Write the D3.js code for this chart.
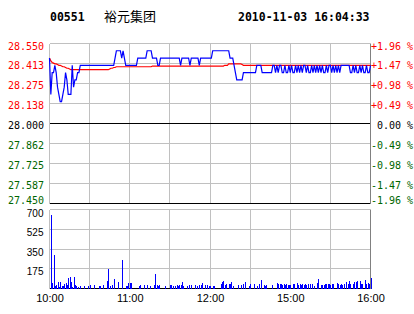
<!DOCTYPE html>
<html>
<head>
<meta charset="utf-8">
<script src="https://cdn.jsdelivr.net/npm/d3@7"></script>
<style>
	html, body { margin: 0; padding: 0; background: #fff; }
	svg { display: block; }
</style>
</head>
<body>
<script>
// stock / header
var code = '00551',
	name = '裕元集团',
	stamp = '2010-11-03 16:04:33',
	prevClose = 28.000;

// axis ticks
var priceTicks = [28.550, 28.413, 28.275, 28.138, 28.000, 27.862, 27.725, 27.587, 27.450];
var pctLabels = ['+1.96 %', '+1.47 %', '+0.98 %', '+0.49 %', ' 0.00 %', '-0.49 %', '-0.98 %', '-1.47 %', '-1.96 %'];
var volTicks = [700, 525, 350, 175];
var timeGrid = [0, 30, 60, 90, 120, 150, 180, 210, 240]; // minutes since open
var timeTicks = [0, 60, 120, 180, 240];
var timeLabels = ['10:00', '11:00', '12:00', '15:00', '16:00'];

// one value per trading minute (10:00-12:30, 14:31-16:00)
var price = [
	28.45, 28.20, 28.35, 28.35, 28.40, 28.35, 28.25, 28.20, 28.15, 28.15,
	28.20, 28.25, 28.35, 28.30, 28.20, 28.20, 28.20, 28.40, 28.25, 28.30,
	28.30, 28.35, 28.35, 28.40, 28.40, 28.40, 28.40, 28.40, 28.40, 28.40,
	28.40, 28.40, 28.40, 28.40, 28.40, 28.40, 28.40, 28.40, 28.40, 28.40,
	28.40, 28.40, 28.40, 28.40, 28.40, 28.40, 28.40, 28.40, 28.40, 28.45,
	28.50, 28.50, 28.50, 28.50, 28.45, 28.50, 28.45, 28.40, 28.40, 28.40,
	28.40, 28.40, 28.40, 28.40, 28.40, 28.40, 28.45, 28.45, 28.45, 28.45,
	28.45, 28.45, 28.45, 28.50, 28.50, 28.50, 28.50, 28.45, 28.45, 28.45,
	28.45, 28.40, 28.40, 28.45, 28.45, 28.45, 28.45, 28.45, 28.45, 28.45,
	28.45, 28.45, 28.45, 28.45, 28.45, 28.45, 28.45, 28.45, 28.40, 28.45,
	28.45, 28.45, 28.45, 28.45, 28.45, 28.40, 28.45, 28.45, 28.45, 28.45,
	28.45, 28.45, 28.40, 28.45, 28.45, 28.45, 28.45, 28.45, 28.45, 28.45,
	28.45, 28.45, 28.50, 28.50, 28.50, 28.50, 28.50, 28.50, 28.50, 28.50,
	28.50, 28.50, 28.50, 28.50, 28.50, 28.45, 28.45, 28.45, 28.40, 28.35,
	28.30, 28.30, 28.30, 28.30, 28.30, 28.35, 28.35, 28.35, 28.35, 28.35,
	28.35, 28.35, 28.35, 28.35, 28.35, 28.40, 28.40, 28.40, 28.40, 28.35,
	28.35, 28.35, 28.35, 28.35, 28.35, 28.35, 28.35, 28.40, 28.40, 28.35,
	28.40, 28.35, 28.40, 28.40, 28.35, 28.35, 28.40, 28.35, 28.35, 28.40,
	28.35, 28.40, 28.35, 28.35, 28.40, 28.35, 28.40, 28.35, 28.40, 28.35,
	28.40, 28.40, 28.35, 28.40, 28.35, 28.35, 28.40, 28.35, 28.40, 28.35,
	28.40, 28.35, 28.40, 28.35, 28.40, 28.35, 28.35, 28.40, 28.35, 28.40,
	28.40, 28.35, 28.40, 28.35, 28.40, 28.35, 28.40, 28.35, 28.40, 28.40,
	28.40, 28.40, 28.40, 28.40, 28.40, 28.35, 28.35, 28.40, 28.35, 28.40,
	28.35, 28.35, 28.40, 28.35, 28.40, 28.35, 28.35, 28.40, 28.35, 28.35,
	28.40
];

var avgPrice = [
	28.450, 28.430, 28.420, 28.415, 28.410, 28.410, 28.405, 28.400, 28.400, 28.395,
	28.390, 28.390, 28.385, 28.380, 28.380, 28.375, 28.370, 28.370, 28.370, 28.370,
	28.370, 28.370, 28.370, 28.370, 28.370, 28.370, 28.370, 28.370, 28.370, 28.370,
	28.370, 28.370, 28.370, 28.370, 28.370, 28.370, 28.370, 28.370, 28.370, 28.370,
	28.370, 28.370, 28.370, 28.370, 28.370, 28.375, 28.380, 28.380, 28.385, 28.385,
	28.390, 28.390, 28.390, 28.390, 28.390, 28.390, 28.390, 28.390, 28.390, 28.390,
	28.390, 28.390, 28.390, 28.390, 28.390, 28.390, 28.390, 28.390, 28.390, 28.390,
	28.390, 28.390, 28.390, 28.390, 28.390, 28.390, 28.390, 28.395, 28.395, 28.395,
	28.395, 28.395, 28.395, 28.395, 28.395, 28.395, 28.395, 28.395, 28.395, 28.395,
	28.395, 28.395, 28.395, 28.395, 28.395, 28.395, 28.395, 28.395, 28.395, 28.395,
	28.395, 28.395, 28.395, 28.395, 28.395, 28.395, 28.395, 28.395, 28.395, 28.395,
	28.395, 28.395, 28.395, 28.395, 28.395, 28.395, 28.395, 28.395, 28.395, 28.395,
	28.395, 28.395, 28.395, 28.395, 28.395, 28.395, 28.395, 28.395, 28.395, 28.395,
	28.395, 28.400, 28.400, 28.400, 28.410, 28.410, 28.410, 28.410, 28.410, 28.410,
	28.410, 28.410, 28.410, 28.410, 28.405, 28.400, 28.400, 28.400, 28.400, 28.400,
	28.400, 28.400, 28.400, 28.400, 28.400, 28.400, 28.400, 28.400, 28.400, 28.400,
	28.400, 28.400, 28.400, 28.400, 28.400, 28.400, 28.400, 28.400, 28.400, 28.400,
	28.400, 28.400, 28.400, 28.400, 28.400, 28.400, 28.400, 28.400, 28.400, 28.400,
	28.400, 28.400, 28.400, 28.400, 28.400, 28.400, 28.400, 28.400, 28.400, 28.400,
	28.400, 28.400, 28.400, 28.400, 28.400, 28.400, 28.400, 28.400, 28.400, 28.400,
	28.400, 28.400, 28.400, 28.400, 28.400, 28.400, 28.400, 28.400, 28.400, 28.400,
	28.400, 28.400, 28.400, 28.400, 28.400, 28.400, 28.400, 28.400, 28.400, 28.400,
	28.400, 28.400, 28.400, 28.400, 28.400, 28.400, 28.400, 28.400, 28.400, 28.400,
	28.400, 28.400, 28.400, 28.400, 28.400, 28.400, 28.400, 28.400, 28.400, 28.400,
	28.400
];

var volume = [
	0, 650, 50, 295, 20, 35, 55, 15, 60, 20,
	25, 40, 45, 30, 95, 100, 55, 10, 100, 35,
	25, 15, 0, 20, 0, 0, 20, 0, 0, 20,
	30, 0, 0, 35, 0, 0, 0, 20, 20, 0,
	30, 0, 0, 65, 170, 20, 0, 35, 80, 0,
	0, 55, 0, 0, 250, 0, 0, 20, 20, 45,
	45, 45, 0, 0, 0, 0, 0, 20, 30, 0,
	0, 35, 0, 35, 0, 20, 0, 0, 35, 125,
	30, 20, 35, 0, 0, 0, 20, 0, 0, 0,
	35, 35, 20, 0, 20, 35, 20, 30, 35, 55,
	20, 0, 0, 20, 30, 0, 35, 0, 0, 35,
	20, 0, 35, 35, 50, 0, 30, 0, 30, 20,
	20, 0, 20, 20, 0, 0, 0, 0, 44, 60,
	67, 30, 38, 0, 38, 38, 60, 20, 0, 0,
	0, 30, 0, 30, 0, 44, 60, 0, 0, 20,
	38, 0, 0, 38, 0, 20, 0, 44, 74, 0,
	30, 20, 30, 0, 0, 0, 30, 0, 0, 0,
	50, 44, 38, 38, 30, 38, 30, 38, 30, 30,
	30, 0, 44, 44, 0, 50, 30, 38, 30, 38,
	30, 38, 30, 38, 0, 38, 38, 0, 20, 0,
	50, 83, 0, 30, 30, 30, 44, 38, 38, 38,
	30, 38, 38, 0, 0, 50, 38, 30, 38, 30,
	38, 0, 60, 44, 67, 38, 0, 44, 60, 60,
	67, 0, 67, 38, 38, 0, 74, 38, 50, 38,
	97
];

var W = 414, H = 314;
var left = 49.5, right = 370.5;

var svg = d3.select('body').append('svg')
	.attr('width', W)
	.attr('height', H)
	.style('background', '#fff');

var x = d3.scaleLinear().domain([0, 240]).range([left, right]);
var y = d3.scaleLinear().domain([27.45, 28.55]).range([203.5, 43.5]);
var vy = d3.scaleLinear().domain([0, 700]).range([288.5, 209.5]);

var mono = '"DejaVu Sans Mono", "Liberation Mono", monospace';
var sans = '"Liberation Sans", Arial, sans-serif';
var red = '#ff0000', green = '#006600', gridc = '#c0c0c0';

function labelColor(v) {
	return v > prevClose ? red : (v < prevClose ? green : '#000');
}
// first label sits a little lower, last one just above its line
function labelDy(d, i) {
	if (i === 0) return '0.62em';
	if (i === priceTicks.length - 1) return '-0.05em';
	return '0.5em';
}

// header
var head = svg.append('g').attr('class', 'header');
head.append('text')
	.attr('x', 50).attr('y', 20.5)
	.attr('font-family', mono).attr('font-weight', 'bold').attr('font-size', 11.5)
	.text(code);
head.append('text')
	.attr('x', 104).attr('y', 20.5)
	.attr('font-family', '"Noto Sans CJK SC", sans-serif').attr('font-size', 13)
	.text(name);
head.append('text')
	.attr('x', 238).attr('y', 20.5)
	.attr('font-family', mono).attr('font-weight', 'bold').attr('font-size', 11.5)
	.text(stamp);

// grids
var grid = svg.append('g').attr('class', 'grid').attr('shape-rendering', 'crispEdges');
grid.selectAll('.vgrid-p')
	.data(timeGrid)
	.enter().append('line')
	.attr('x1', function(d) { return x(d); }).attr('x2', function(d) { return x(d); })
	.attr('y1', y(28.55)).attr('y2', y(27.45))
	.attr('stroke', gridc);
grid.selectAll('.vgrid-v')
	.data(timeGrid)
	.enter().append('line')
	.attr('x1', function(d) { return x(d); }).attr('x2', function(d) { return x(d); })
	.attr('y1', vy(700)).attr('y2', vy(0))
	.attr('stroke', gridc);
grid.selectAll('.hgrid-p')
	.data(priceTicks)
	.enter().append('line')
	.attr('x1', left).attr('x2', right)
	.attr('y1', function(d) { return y(d); }).attr('y2', function(d) { return y(d); })
	.attr('stroke', function(d, i) { return (d === prevClose || i === priceTicks.length - 1) ? '#000' : gridc; });
grid.selectAll('.hgrid-v')
	.data(volTicks)
	.enter().append('line')
	.attr('x1', left).attr('x2', right)
	.attr('y1', function(d) { return vy(d); }).attr('y2', function(d) { return vy(d); })
	.attr('stroke', gridc);
grid.append('line')
	.attr('x1', left).attr('x2', right)
	.attr('y1', vy(0)).attr('y2', vy(0))
	.attr('stroke', '#000');
grid.append('line')
	.attr('x1', right).attr('x2', right)
	.attr('y1', y(28.55)).attr('y2', y(27.45))
	.attr('stroke', '#808080');
grid.append('line')
	.attr('x1', right).attr('x2', right)
	.attr('y1', vy(700)).attr('y2', vy(0))
	.attr('stroke', '#808080');

// left price labels
svg.append('g')
	.attr('transform', 'translate(' + left + ',0)')
	.call(d3.axisLeft(y).tickValues(priceTicks).tickFormat(d3.format('.3f')).tickSize(0).tickPadding(5.5))
	.call(function(g) {
		g.select('.domain').remove();
		g.selectAll('text')
			.attr('font-family', mono).attr('font-size', 10)
			.attr('dy', labelDy)
			.attr('fill', function(d) { return labelColor(d); });
	});

// right percent labels
svg.append('g')
	.attr('transform', 'translate(' + right + ',0)')
	.call(d3.axisRight(y).tickValues(priceTicks).tickFormat(function(d, i) { return pctLabels[i]; }).tickSize(0).tickPadding(0.5))
	.call(function(g) {
		g.select('.domain').remove();
		g.selectAll('text')
			.attr('font-family', mono).attr('font-size', 10)
			.attr('dy', labelDy)
			.style('white-space', 'pre')
			.attr('fill', function(d) { return labelColor(d); });
	});

// volume labels
svg.append('g')
	.attr('transform', 'translate(' + left + ',0)')
	.call(d3.axisLeft(vy).tickValues(volTicks).tickSize(0).tickPadding(6))
	.call(function(g) {
		g.select('.domain').remove();
		g.selectAll('text')
			.attr('font-family', sans).attr('font-size', 10)
			.attr('dy', function(d, i) { return i === 0 ? '0.72em' : '0.6em'; })
			.attr('fill', '#000');
	});

// time labels
svg.append('g')
	.attr('transform', 'translate(0,' + vy(0) + ')')
	.call(d3.axisBottom(x).tickValues(timeTicks).tickFormat(function(d, i) { return timeLabels[i]; }).tickSize(0).tickPadding(5.5))
	.call(function(g) {
		g.select('.domain').remove();
		g.selectAll('text')
			.attr('font-family', sans).attr('font-size', 11)
			.attr('fill', '#000');
	});

// volume bars
svg.append('g').attr('shape-rendering', 'crispEdges')
	.selectAll('rect')
	.data(volume.map(function(v, i) { return [i, v]; }).filter(function(d) { return d[1] > 0; }))
	.enter().append('rect')
	.attr('x', function(d) { return Math.round(x(d[0])) - 0.5; })
	.attr('width', 1)
	.attr('y', function(d) { return vy(d[1]); })
	.attr('height', function(d) { return vy(0) - vy(d[1]); })
	.attr('fill', '#0000ff');

// price + average lines
var line = d3.line()
	.x(function(d, i) { return x(i); })
	.y(function(d) { return y(d); });

svg.append('path')
	.datum(avgPrice)
	.attr('fill', 'none')
	.attr('stroke', red)
	.attr('stroke-width', 1.2)
	.attr('d', line);

svg.append('path')
	.datum(price)
	.attr('fill', 'none')
	.attr('stroke', '#0000ff')
	.attr('stroke-width', 1.2)
	.attr('d', line);
</script>
</body>
</html>
